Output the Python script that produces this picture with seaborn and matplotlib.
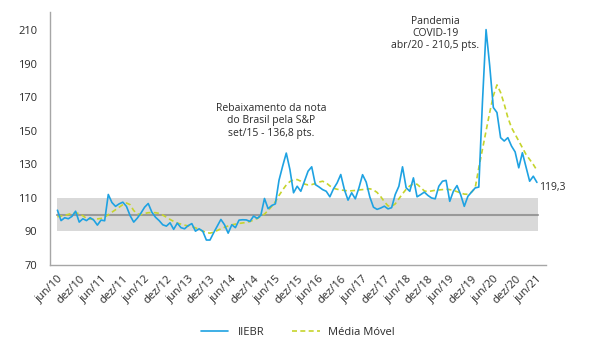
import numpy as np
import pandas as pd
import matplotlib
matplotlib.use("Agg")
import matplotlib.pyplot as plt
import seaborn as sns

# monthly labels every 6 months (jun/10 ... jun/21)
tick_labels = ["jun/10", "dez/10", "jun/11", "dez/11", "jun/12", "dez/12", "jun/13", "dez/13",
               "jun/14", "dez/14", "jun/15", "dez/15", "jun/16", "dez/16", "jun/17", "dez/17",
               "jun/18", "dez/18", "jun/19", "dez/19", "jun/20", "dez/20", "jun/21"]

# IIE-Br, jun/10 to jun/21
iiebr = [
    102.7, 96.5, 98.2, 97.6, 99.0, 102.1, 95.6,
    97.6, 96.5, 98.2, 96.8, 93.8, 96.8, 96.4, 112.1, 107.3, 105.0, 106.5, 107.5,
    105.0, 99.5, 95.6, 98.0, 101.0, 104.5, 106.7, 101.5, 98.5, 96.5, 94.0, 93.2,
    95.2, 91.3, 95.0, 92.3, 91.6, 93.5, 94.7, 90.2, 91.6, 90.2, 84.9, 84.9,
    89.2, 93.2, 97.2, 94.0, 89.0, 94.0, 92.3, 96.8, 97.0, 96.9, 96.0, 99.2,
    97.8, 99.7, 109.7, 103.6, 105.5, 106.5, 120.6, 129.0, 136.8, 127.0, 113.1, 117.0,
    114.0, 120.0, 126.0, 128.6, 118.0, 116.6, 115.0, 114.0, 110.7, 115.5, 119.0, 124.0,
    115.0, 108.7, 113.1, 109.5, 116.0, 123.9, 119.5, 110.6, 104.5, 103.2, 104.0, 105.1,
    103.5, 104.2, 112.1, 117.0, 128.6, 116.1, 114.0, 122.0, 110.7, 112.0, 113.5, 111.5,
    110.0, 109.5, 117.0, 120.0, 120.5, 108.0, 114.0, 117.4, 112.0, 105.0, 111.0, 113.5,
    116.0, 116.5, 167.0, 210.5, 189.0, 164.0, 161.0, 146.0, 144.0, 146.0, 141.0, 137.5,
    128.0, 137.0, 128.5, 120.0, 123.0, 119.3,
]

# moving average
media_movel = [
    98.8, 99.2, 99.6, 100.2, 100.8, 101.2, 100.6, 99.4, 97.8,
    97.4, 97.3, 97.5, 97.8, 98.6, 100.0, 101.5, 103.0, 104.5, 106.0,
    107.0, 106.0, 102.5, 100.5, 100.0, 100.8, 101.2, 101.3, 101.2, 100.8, 99.8, 98.5,
    97.2, 96.0, 95.0, 94.4, 93.8, 93.3, 92.8, 92.2, 91.2, 90.2, 89.4, 89.0,
    89.6, 90.6, 91.6, 92.5, 93.3, 94.0, 94.4, 94.8, 95.1, 95.4, 96.0, 96.8,
    97.8, 99.0, 100.4, 102.5, 105.0, 107.8, 111.5, 114.8, 117.8, 119.8, 120.8, 121.0,
    120.0, 118.3, 117.8, 118.0, 118.6, 119.5, 120.0, 119.0, 117.2, 115.8, 115.2, 114.8,
    114.5, 114.2, 114.3, 114.5, 114.8, 115.0, 115.2, 115.5, 114.8, 113.3, 110.8, 107.8,
    105.3, 105.0, 106.5, 109.5, 112.5, 115.2, 117.2, 118.4, 118.2, 116.3, 114.2, 113.8,
    114.2, 114.6, 114.8, 115.0, 115.2, 115.0, 114.5, 113.8, 113.0, 112.3, 112.2, 113.5,
    116.0, 128.0, 139.0, 150.0, 161.0, 171.0, 177.5, 173.0, 166.0, 158.0, 152.0, 148.0,
    144.0, 140.0, 136.0, 133.0, 130.0, 126.5,
]

band_low, band_high, baseline = 90, 110, 100

df = pd.DataFrame({"mes": np.arange(len(iiebr)), "IIEBR": iiebr, "Média Móvel": media_movel})

sns.set_style("white")
plt.rcParams["font.family"] = ["Open Sans", "DejaVu Sans"]
txt = "#2b2b2b"

fig = plt.figure(figsize=(6, 3.64), dpi=100)
ax = fig.add_axes([0.083, 0.272, 0.827, 0.695])

n = len(iiebr)
ax.fill_between([0, n - 0.6], band_low, band_high, color="#d9d9d9", lw=0, zorder=0)
ax.plot([0, n - 0.6], [baseline, baseline], color="#999999", lw=1.5, zorder=1)

sns.lineplot(data=df, x="mes", y="IIEBR", ax=ax, color="#1ea2e2", lw=1.2,
             label="IIEBR", zorder=3)
sns.lineplot(data=df, x="mes", y="Média Móvel", ax=ax, color="#c6d42c", lw=1.2,
             linestyle=(0, (3, 2)), label="Média Móvel", zorder=2)

ax.set_xlim(-2.1, 134.5)
ax.set_ylim(70, 221)
ax.set_yticks(range(70, 211, 20))
ax.set_xticks(range(0, n, 6))
ax.set_xticklabels(tick_labels, rotation=45, ha="right", rotation_mode="anchor")
ax.tick_params(axis="x", length=4, color="#a6a6a6", labelsize=8, pad=2, labelcolor=txt)
ax.tick_params(axis="y", length=0, labelsize=8, pad=9, labelcolor=txt)
ax.set_xlabel("")
ax.set_ylabel("")
for s in ["top", "right"]:
    ax.spines[s].set_visible(False)
for s in ["left", "bottom"]:
    ax.spines[s].set_color("#a6a6a6")
    ax.spines[s].set_linewidth(1)

ax.text(58.9, 156, "Rebaixamento da nota\ndo Brasil pela S&P\nset/15 - 136,8 pts.",
        ha="center", va="center", fontsize=7.5, linespacing=1.15, color=txt)
ax.text(104, 208, "Pandemia\nCOVID-19\nabr/20 - 210,5 pts.",
        ha="center", va="center", fontsize=7.5, linespacing=1.15, color=txt)
ax.text(n - 0.3, iiebr[-1] - 3, "119,3", ha="left", va="center", fontsize=7.5, color=txt)

leg = ax.legend(loc="upper center", bbox_to_anchor=(0.5, -0.205), ncol=2, frameon=False,
                fontsize=8, handlelength=2.5, columnspacing=2.5)
for t in leg.get_texts():
    t.set_color(txt)

fig.savefig("out.png", dpi=100)
